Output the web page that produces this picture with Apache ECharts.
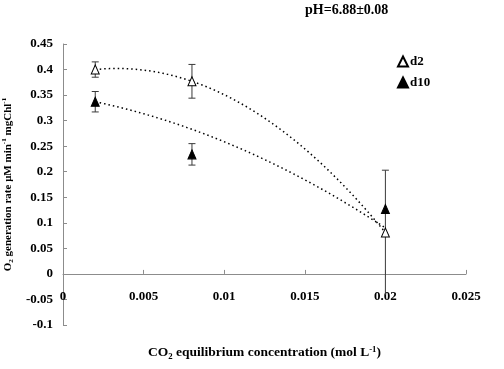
<!DOCTYPE html>
<html>
<head>
<meta charset="utf-8">
<script src="https://cdn.jsdelivr.net/npm/echarts@6/dist/echarts.min.js"></script>
<style>html,body{margin:0;padding:0;background:#fff}#c{width:504px;height:369px}</style>
</head>
<body>
<div id="c"></div>
<script>
// ---- data ----
const xValues = [0.002, 0.008, 0.02];
const d2Values = [0.400, 0.377, 0.081];
const d2Errors = [0.015, 0.033, 0.122];
const d10Values = [0.337, 0.234, 0.127];
const d10Errors = [0.020, 0.021, 0.0];
// polynomial (order 2) trendline coefficients [a, b, c] : y = a + b x + c x^2
const d2Trend = [0.3891, 7.75, -1158];
const d10Trend = [0.3487, -5.065, -393.5];
const trendRange = [0.002, 0.02];
const xTicks = [0, 0.005, 0.01, 0.015, 0.02, 0.025];
const yTicks = [-0.1, 0.45, 0.05];

const FONT = '"Liberation Serif", "Times New Roman", serif';
const GRID = { left: 63, right: 38, top: 44, bottom: 44 };

function trendPoints(coef) {
  const pts = [];
  const n = 60;
  for (let i = 0; i <= n; i++) {
    const x = trendRange[0] + (trendRange[1] - trendRange[0]) * i / n;
    pts.push([x, coef[0] + coef[1] * x + coef[2] * x * x]);
  }
  return pts;
}
function errData(vals, errs) {
  return xValues.map((x, i) => [x, vals[i] - errs[i], vals[i] + errs[i]]);
}
function errRender(params, api) {
  const x = api.value(0);
  const lo = api.coord([x, api.value(1)]);
  const hi = api.coord([x, api.value(2)]);
  const zero = api.coord([x, 0]);
  if (Math.abs(lo[1] - hi[1]) < 0.5) return null;
  const w = 3.5;
  const st = { stroke: '#3a3a3a', lineWidth: 1 };
  const children = [
    { type: 'line', shape: { x1: lo[0], y1: lo[1], x2: hi[0], y2: hi[1] }, style: st },
    { type: 'line', shape: { x1: hi[0] - w, y1: hi[1], x2: hi[0] + w, y2: hi[1] }, style: st }
  ];
  if (lo[1] <= zero[1]) {
    children.push({ type: 'line', shape: { x1: lo[0] - w, y1: lo[1], x2: lo[0] + w, y2: lo[1] }, style: st });
  }
  return { type: 'group', children };
}

const chart = echarts.init(document.getElementById('c'), null, { renderer: 'canvas' });
const richTitle = (size) => ({
  b: { fontFamily: FONT, fontWeight: 'bold', fontSize: size, color: '#000', lineHeight: 16 },
  s: { fontFamily: FONT, fontWeight: 'bold', fontSize: size * 0.65, color: '#000', lineHeight: 16, padding: [7, 0, 0, 0] },
  p: { fontFamily: FONT, fontWeight: 'bold', fontSize: size * 0.65, color: '#000', lineHeight: 16, padding: [0, 0, 7, 0] }
});
chart.setOption({
  animation: false,
  backgroundColor: '#fff',
  textStyle: { fontFamily: FONT },
  title: {
    text: 'pH=6.88±0.08',
    left: 305, top: 3, padding: 0,
    textStyle: { fontFamily: FONT, fontWeight: 'bold', fontSize: 14, color: '#000' }
  },
  legend: {
    orient: 'vertical',
    left: 392, top: 50,
    itemWidth: 10, itemHeight: 10, itemGap: 8,
    textStyle: { fontFamily: FONT, fontWeight: 'bold', fontSize: 13, color: '#000', padding: [0, 0, 0, -3] },
    data: [{ name: 'd2', icon: 'triangle' }, { name: 'd10', icon: 'triangle' }]
  },
  grid: Object.assign({ containLabel: false, outerBoundsMode: 'none' }, GRID),
  xAxis: {
    type: 'value',
    min: xTicks[0], max: xTicks[xTicks.length - 1], interval: xTicks[1] - xTicks[0],
    axisLine: { onZero: false, lineStyle: { color: '#8c8c8c', width: 1 } },
    axisTick: { show: true, inside: true, length: 4, lineStyle: { color: '#8c8c8c' } },
    splitLine: { show: false },
    axisLabel: {
      margin: 16, color: '#000', fontFamily: FONT, fontWeight: 'bold', fontSize: 13,
      formatter: v => String(+v.toFixed(4))
    },
    name: '{b|CO}{s|2}{b| equilibrium concentration (mol L}{p|-1}{b|)}',
    nameLocation: 'middle', nameGap: 71,
    nameTextStyle: { rich: richTitle(13.5) }
  },
  yAxis: {
    type: 'value',
    min: yTicks[0], max: yTicks[1], interval: yTicks[2],
    axisLine: { show: true, onZero: false, lineStyle: { color: '#8c8c8c', width: 1 } },
    axisTick: { show: true, inside: true, length: 4, lineStyle: { color: '#8c8c8c' } },
    splitLine: { show: false },
    axisLabel: {
      margin: 10, color: '#000', fontFamily: FONT, fontWeight: 'bold', fontSize: 13,
      formatter: v => String(+v.toFixed(3))
    },
    name: '{b|O}{s|2}{b| generation rate μM min}{p|-1}{b| mgChl}{p|-1}',
    nameLocation: 'middle', nameGap: 41, nameRotate: 90,
    nameTextStyle: { rich: richTitle(11) }
  },
  series: [
    {
      name: 'd2 trend', type: 'line', data: trendPoints(d2Trend), showSymbol: false, z: 2,
      lineStyle: { color: '#000', width: 1.5, type: [1.5, 3] }, silent: true
    },
    {
      name: 'd10 trend', type: 'line', data: trendPoints(d10Trend), showSymbol: false, z: 2,
      lineStyle: { color: '#000', width: 1.5, type: [1.5, 3] }, silent: true
    },
    { name: 'd2 err', type: 'custom', renderItem: errRender, data: errData(d2Values, d2Errors), z: 3 },
    { name: 'd10 err', type: 'custom', renderItem: errRender, data: errData(d10Values, d10Errors), z: 3 },
    {
      name: 'd2', type: 'scatter', symbol: 'triangle', symbolSize: [8, 9], z: 5,
      itemStyle: { color: '#fff', borderColor: '#000', borderWidth: 1, opacity: 1 },
      data: xValues.map((x, i) => [x, d2Values[i]])
    },
    {
      name: 'd10', type: 'scatter', symbol: 'triangle', symbolSize: [8, 9], z: 5,
      itemStyle: { color: '#000', borderColor: '#000', borderWidth: 1, opacity: 1 },
      data: xValues.map((x, i) => [x, d10Values[i]])
    }
  ]
});
// place the x axis (line, labels and name) on the y = 0 line, as in the reference
const zeroY = chart.convertToPixel({ yAxisIndex: 0 }, 0);
const bottomY = chart.getHeight() - GRID.bottom;
chart.setOption({ xAxis: { offset: zeroY - bottomY } });
</script>
</body>
</html>
